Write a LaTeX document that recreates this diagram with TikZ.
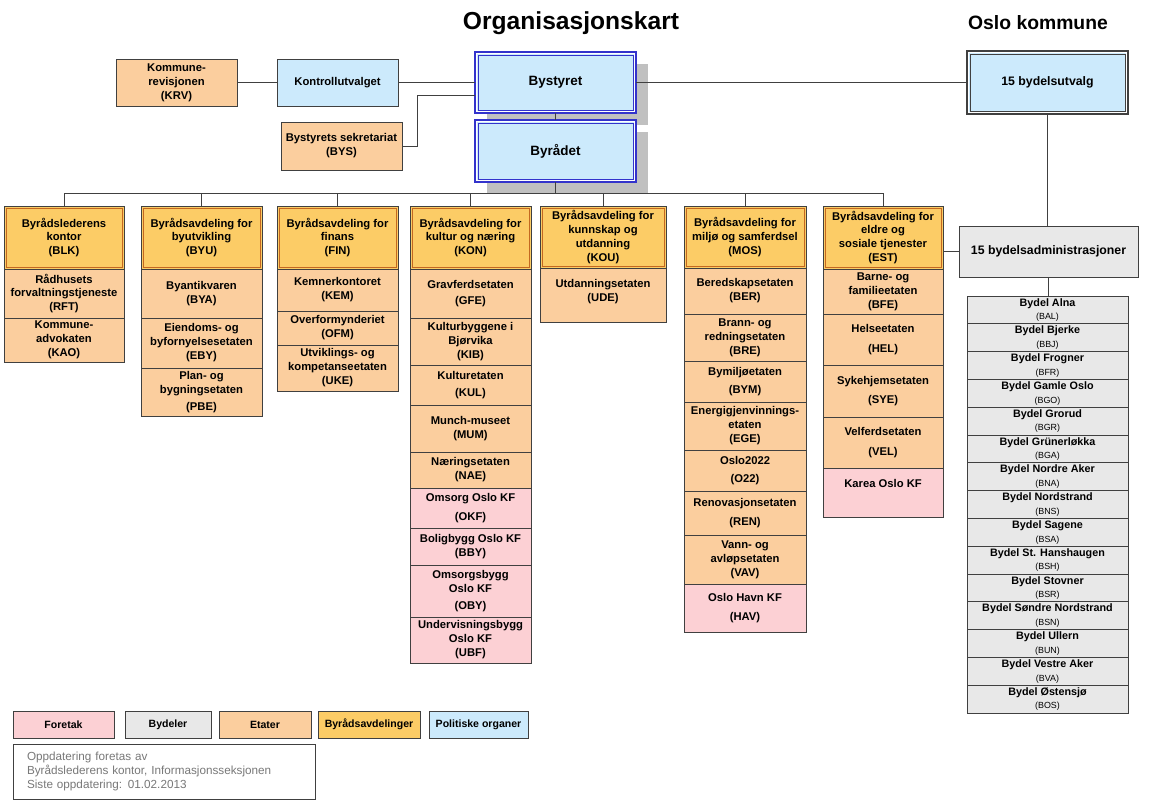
\documentclass[tikz,border=0pt]{standalone}
\usepackage{fontspec}
\setmainfont{Liberation Sans}
\usepackage{xcolor}
\usepackage{tikz}
\usetikzlibrary{positioning, shadows}

\definecolor{foretakfarge}{RGB}{252,208,212}
\definecolor{bydelfarge}{RGB}{232,232,232}
\definecolor{etatfarge}{RGB}{251,206,158}
\definecolor{avdfarge}{RGB}{252,204,102}
\definecolor{politiskfarge}{RGB}{204,234,252}
\definecolor{ramme}{RGB}{64,64,64}
\definecolor{avdkant}{RGB}{196,104,32}
\definecolor{blaakant}{RGB}{51,51,204}
\definecolor{skygge}{RGB}{192,192,192}
\definecolor{notatgraa}{RGB}{120,120,120}

\tikzset{
  dims/.style 2 args={minimum width=#1*0.03cm, minimum height=#2*0.03cm},
  boks/.style={draw=ramme, line width=0.6pt, align=center, inner sep=0pt, outer sep=0pt,
    anchor=north west, font=\fontsize{9.6}{11.9}\selectfont\bfseries},
  avd/.style={boks, fill=avdfarge},
  etat/.style={boks, fill=etatfarge},
  foretak/.style={boks, fill=foretakfarge},
  bydel/.style={boks, fill=bydelfarge},
  politisk/.style={boks, fill=politiskfarge},
  topp/.style={politisk, line width=1.1pt,
    font=\fontsize{11.5}{14}\selectfont\bfseries},
  skyggelagt/.style={drop shadow={shadow xshift=0.36cm, shadow yshift=-0.36cm,
    opacity=1, fill=skygge}},
  forklaring/.style={boks, minimum width=#1*0.03cm, minimum height=0.81cm,
    font=\fontsize{9}{11}\selectfont\bfseries},
  kobling/.style={draw=ramme, line width=0.8pt},
  indre/.style={draw=avdkant, line width=0.6pt},
  gap/.style={draw=white, line width=0.9pt}
}

\begin{document}
\begin{tikzpicture}[x=0.03cm, y=-0.03cm]

\useasboundingbox (0,0) rectangle (1152,802);

\node[font=\fontsize{21}{25}\selectfont\bfseries] (tittel) at (571,23) {Organisasjonskart};
\node[font=\fontsize{16.5}{20}\selectfont\bfseries] (oslo) at (1038,23) {Oslo kommune};

% politiske organer
\node[topp, skyggelagt, draw=blaakant, dims={161}{61}] (bystyret) at (475,52) {Bystyret};
\node[topp, skyggelagt, draw=blaakant, dims={161}{62}] (byraadet) at (475,120) {Byrådet};
\node[topp, draw=ramme, dims={161}{63}, font=\fontsize{10.5}{13}\selectfont\bfseries] (utvalg) at (967,51) {15 bydelsutvalg};
\foreach \n/\f in {bystyret/blaakant, byraadet/blaakant, utvalg/ramme} {
  \draw[gap] ([shift={(1.9,-1.9)}]\n.south west) rectangle ([shift={(-1.9,1.9)}]\n.north east);
  \draw[draw=\f, line width=0.7pt] ([shift={(3,-3)}]\n.south west) rectangle ([shift={(-3,3)}]\n.north east);
}
\node[politisk, dims={121}{47}] (kontroll) at (277,59) {Kontrollutvalget};
\node[etat, dims={121}{47}] (krv) at (116,59) {Kommune-\\revisjonen\\(KRV)};
\node[etat, dims={121}{48}] (bys) at (281,122) {Bystyrets sekretariat\\(BYS)};
\node[bydel, dims={179}{51}, font=\fontsize{10.5}{13}\selectfont\bfseries] (adm) at (959,226) {15 bydelsadministrasjoner};

% byraadsavdelinger
\node[avd, dims={120}{63}] (blk) at (4,206) {Byrådslederens\\kontor\\(BLK)};
\node[avd, dims={121}{63}] (byu) at (141,206) {Byrådsavdeling for\\byutvikling\\(BYU)};
\node[avd, dims={121}{63}] (fin) at (277,206) {Byrådsavdeling for\\finans\\(FIN)};
\node[avd, dims={121}{63}] (kon) at (410,206) {Byrådsavdeling for\\kultur og næring\\(KON)};
\node[avd, dims={126}{62}] (kou) at (540,206) {Byrådsavdeling for\\kunnskap og\\utdanning\\(KOU)};
\node[avd, dims={122}{62}] (mos) at (684,206) {Byrådsavdeling for\\miljø og samferdsel\\(MOS)};
\node[avd, dims={120}{63}] (est) at (823,206) {Byrådsavdeling for\\eldre og\\sosiale tjenester\\(EST)};
\foreach \n in {blk,byu,fin,kon,kou,mos,est}
  \draw[indre] ([shift={(2,-2)}]\n.south west) rectangle ([shift={(-2,2)}]\n.north east);

% etater og foretak
\node[etat, dims={120}{49}, below=0pt of blk] (rft) {Rådhusets\\forvaltningstjeneste\\(RFT)};
\node[etat, dims={120}{44}, below=0pt of rft] (kao) {Kommune-\\advokaten\\(KAO)};

\node[etat, dims={121}{49}, below=0pt of byu] (bya) {Byantikvaren\\(BYA)};
\node[etat, dims={121}{50}, below=0pt of bya] (eby) {Eiendoms- og\\byfornyelsesetaten\\(EBY)};
\node[etat, dims={121}{48}, below=0pt of eby] (pbe) {Plan- og\\bygningsetaten\\[3pt](PBE)};

\node[etat, dims={121}{42}, below=0pt of fin] (kem) {Kemnerkontoret\\(KEM)};
\node[etat, dims={121}{34}, below=0pt of kem] (ofm) {Overformynderiet\\(OFM)};
\node[etat, dims={121}{46}, below=0pt of ofm] (uke) {Utviklings- og\\kompetanseetaten\\(UKE)};

\node[etat, dims={121}{49}, below=0pt of kon] (gfe) {Gravferdsetaten\\[2pt](GFE)};
\node[etat, dims={121}{47}, below=0pt of gfe] (kib) {Kulturbyggene i\\Bjørvika\\(KIB)};
\node[etat, dims={121}{40}, below=0pt of kib] (kul) {Kulturetaten\\[2pt](KUL)};
\node[etat, dims={121}{47}, below=0pt of kul] (mum) {Munch-museet\\(MUM)};
\node[etat, dims={121}{36}, below=0pt of mum] (nae) {Næringsetaten\\(NAE)};
\node[foretak, dims={121}{40}, below=0pt of nae] (okf) {Omsorg Oslo KF\\[5pt](OKF)};
\node[foretak, dims={121}{37}, below=0pt of okf] (bby) {Boligbygg Oslo KF\\(BBY)};
\node[foretak, dims={121}{52}, below=0pt of bby] (oby) {Omsorgsbygg\\Oslo KF\\[3pt](OBY)};
\node[foretak, dims={121}{46}, below=0pt of oby] (ubf) {Undervisningsbygg\\Oslo KF\\(UBF)};

\node[etat, dims={126}{54}, below=0pt of kou, text depth=8pt] (ude) {Utdanningsetaten\\(UDE)};

\node[etat, dims={122}{46}, below=0pt of mos] (ber) {Beredskapsetaten\\(BER)};
\node[etat, dims={122}{47}, below=0pt of ber] (bre) {Brann- og\\redningsetaten\\(BRE)};
\node[etat, dims={122}{41}, below=0pt of bre] (bym) {Bymiljøetaten\\[3pt](BYM)};
\node[etat, dims={122}{48}, below=0pt of bym] (ege) {Energigjenvinnings-\\etaten\\(EGE)};
\node[etat, dims={122}{41}, below=0pt of ege] (o22) {Oslo2022\\[4pt](O22)};
\node[etat, dims={122}{44}, below=0pt of o22] (ren) {Renovasjonsetaten\\[5pt](REN)};
\node[etat, dims={122}{49}, below=0pt of ren] (vav) {Vann- og\\avløpsetaten\\(VAV)};
\node[foretak, dims={122}{48}, below=0pt of vav] (hav) {Oslo Havn KF\\[4pt](HAV)};

\node[etat, dims={120}{45}, below=0pt of est] (bfe) {Barne- og\\familieetaten\\(BFE)};
\node[etat, dims={120}{51}, below=0pt of bfe] (hel) {Helseetaten\\[5pt](HEL)};
\node[etat, dims={120}{52}, below=0pt of hel] (sye) {Sykehjemsetaten\\[5pt](SYE)};
\node[etat, dims={120}{51}, below=0pt of sye] (vel) {Velferdsetaten\\[5pt](VEL)};
\node[foretak, dims={120}{49}, below=0pt of vel, text depth=16pt] (karea) {Karea Oslo KF};

% bydeler
\foreach \navn/\fork [count=\i from 0] in {Alna/BAL, Bjerke/BBJ, Frogner/BFR,
    Gamle Oslo/BGO, Grorud/BGR, Grünerløkka/BGA, Nordre Aker/BNA, Nordstrand/BNS,
    Sagene/BSA, St. Hanshaugen/BSH, Stovner/BSR, Søndre Nordstrand/BSN,
    Ullern/BUN, Vestre Aker/BVA, Østensjø/BOS}
  \node[bydel, dims={161}{27.8}, font=\fontsize{9.2}{11.5}\selectfont\bfseries]
    (bd\i) at (967,{296+27.8*\i}) {Bydel \navn\\{\fontsize{7.6}{8}\selectfont\mdseries(\fork)}};

% koblinger
\coordinate (buss) at (0,193);
\draw[kobling] (krv) -- (kontroll);
\draw[kobling] (kontroll) -- (bystyret);
\draw[kobling] (bys.east) -- ++(15,0) |- ([yshift=-13*0.03cm]bystyret.west);
\draw[kobling] (bystyret) -- (byraadet);
\draw[kobling] (bystyret) -- (utvalg);
\draw[kobling] (utvalg.south) -- (utvalg.south |- adm.north);
\draw[kobling] (adm.south) -- (adm.south |- bd0.north);
\draw[kobling] (adm.west) -- (adm.west -| est.east);
\draw[kobling] (byraadet.south) -- (byraadet.south |- buss);
\draw[kobling] (blk.north |- buss) -- (est.north |- buss);
\foreach \n in {blk,byu,fin,kon,kou,mos,est}
  \draw[kobling] (\n.north |- buss) -- (\n.north);

% forklaring
\node[foretak, forklaring=101] (lfo) at (13,711) {Foretak};
\node[bydel, forklaring=86] (lby) at (125,711) {Bydeler};
\node[etat, forklaring=92] (let) at (219,711) {Etater};
\node[avd, forklaring=102] (lav) at (318,711) {Byrådsavdelinger};
\node[politisk, forklaring=99] (lpo) at (429,711) {Politiske organer};
\node[boks, fill=white, dims={302}{55}, text width=8.22cm, inner xsep=0.42cm, align=left,
  font=\fontsize{10}{11.9}\selectfont, text=notatgraa] (notat) at (13,744)
  {Oppdatering foretas av\\Byrådslederens kontor, Informasjonsseksjonen\\Siste oppdatering: 01.02.2013};
\end{tikzpicture}
\end{document}
